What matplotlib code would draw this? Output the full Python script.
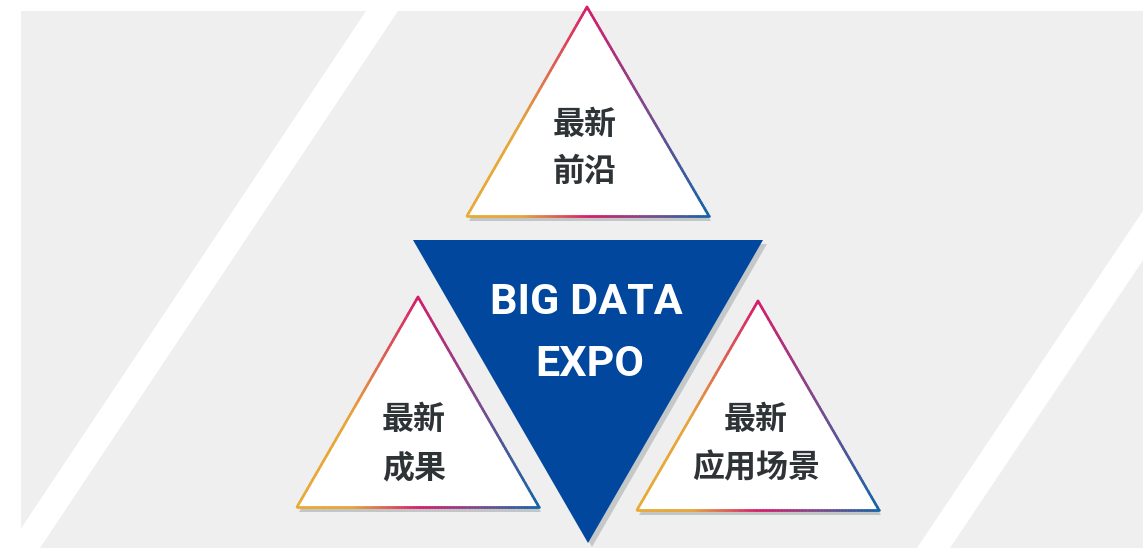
import numpy as np
import matplotlib.pyplot as plt
from matplotlib.patches import Polygon
from matplotlib.collections import LineCollection
from matplotlib.colors import LinearSegmentedColormap

plt.rcParams['font.family'] = ['Noto Sans CJK SC', 'DejaVu Sans']

# 内容
center_title = ['BIG DATA', 'EXPO']
labels = [['最新', '前沿'], ['最新', '成果'], ['最新', '应用场景']]

# 三个小三角形 (顶点x, 顶点y, 底边左x, 底边右x, 底边y)
small_tri = [
    (587, 7, 467, 709, 216),
    (418, 297, 297, 539, 507),
    (758, 301, 637, 879, 510),
]
text_pos = [(585, 125, 172), (414, 420, 468), (756, 420, 468)]

# 中间倒三角
big_tri = [(413, 240), (763, 240), (588, 543)]

grad = LinearSegmentedColormap.from_list(
    'g', [(0, '#e8ab35'), (0.22, '#e6a53a'), (0.5, '#d61c6c'),
          (0.75, '#7d4b8e'), (1, '#1266a8')])

fig = plt.figure(figsize=(11.43, 5.48), dpi=100)
ax = fig.add_axes([0, 0, 1, 1])
ax.set_xlim(0, 1143)
ax.set_ylim(548, 0)
ax.axis('off')

# 背景
ax.add_patch(Polygon([(21, 11), (1143, 11), (1143, 548), (21, 548)], closed=True,
                     facecolor='#efefef', edgecolor='none'))
ax.add_patch(Polygon([(366, 11), (398, 11), (40, 548), (8, 548)], closed=True,
                     facecolor='white', edgecolor='none'))
ax.add_patch(Polygon([(1277, 11), (1310, 11), (950, 548), (917, 548)], closed=True,
                     facecolor='white', edgecolor='none'))

# 中间倒三角 + 阴影
shadow = [(x + 4, y + 4) for x, y in big_tri]
ax.add_patch(Polygon(shadow, closed=True, facecolor='#c5c8c9', edgecolor='none'))
ax.add_patch(Polygon(big_tri, closed=True, facecolor='#00479d', edgecolor='none'))
ax.text(586, 303, center_title[0], color='white', fontsize=31, fontweight='bold',
        family='Roboto', ha='center', va='center')
ax.text(590, 364, center_title[1], color='white', fontsize=31, fontweight='bold',
        family='Roboto', ha='center', va='center')

# 小三角形
for (ax_, ay, bl, br, by), (tx, ty1, ty2), lab in zip(small_tri, text_pos, labels):
    pts = [(bl, by), (ax_, ay), (br, by)]
    sh = [(x + 2, y + 5) for x, y in pts]
    ax.add_patch(Polygon(sh, closed=True, facecolor='#c3c6c7', edgecolor='none'))
    ax.add_patch(Polygon(pts, closed=True, facecolor='white', edgecolor='none'))
    # 渐变描边
    verts = pts + [pts[0]]
    segs, cols = [], []
    for (x0, y0), (x1, y1) in zip(verts[:-1], verts[1:]):
        s = np.linspace(0, 1, 80)
        xs = x0 + (x1 - x0) * s
        ys = y0 + (y1 - y0) * s
        for i in range(len(s) - 1):
            segs.append([(xs[i], ys[i]), (xs[i + 1], ys[i + 1])])
            cols.append(grad(((xs[i] + xs[i + 1]) / 2 - bl) / (br - bl)))
    ax.add_collection(LineCollection(segs, colors=cols, linewidths=1.9,
                                     capstyle='round', joinstyle='round'))
    ax.text(tx, ty1, lab[0], color='#2e3336', fontsize=23, fontweight='bold',
            ha='center', va='center')
    ax.text(tx, ty2, lab[1], color='#2e3336', fontsize=23, fontweight='bold',
            ha='center', va='center')

fig.savefig('out.png', dpi=100)
